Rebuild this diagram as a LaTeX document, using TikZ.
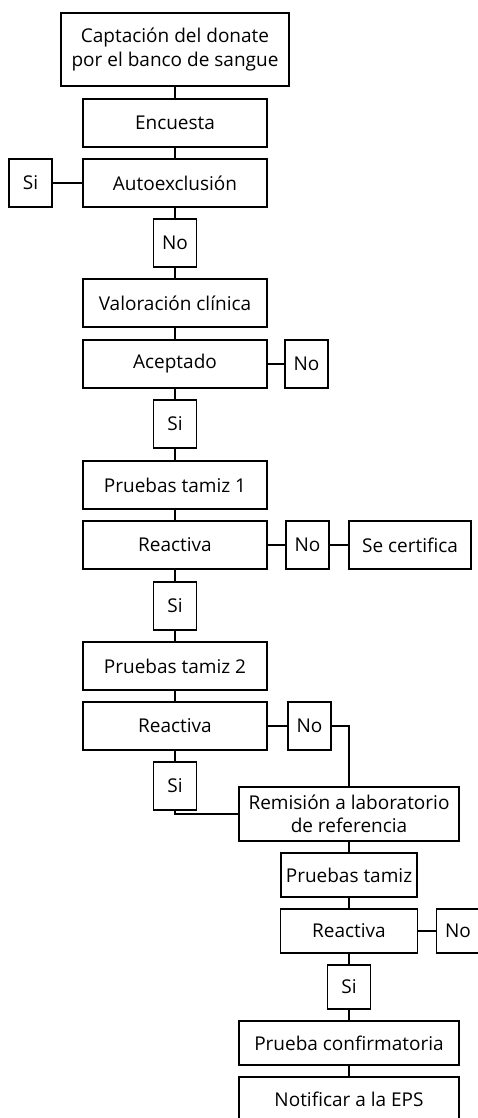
\documentclass[tikz,border=0pt]{standalone}
\usepackage{fontspec}
\setmainfont{Open Sans}
\usetikzlibrary{shapes,arrows,positioning}
\tikzstyle{Block} = [draw, rectangle, line width=1.1pt, minimum height=48pt, minimum width=184pt, inner sep=0pt, outer sep=0pt, align=center, font=\fontsize{19}{24.5}\selectfont]
\tikzstyle{Answer} = [Block, minimum width=43pt]
\tikzstyle{Lower} = [Block, minimum height=44pt]
\tikzstyle{Link} = [line width=2.2pt]

\begin{document}
\begin{tikzpicture}[x=1pt, y=1pt, node distance=12pt]
    \useasboundingbox (0,0) rectangle (477,-1118);
    \node[Block, minimum width=228pt, minimum height=73pt] (captacion) at (175,-49.5) {Captación del donate\\por el banco de sangue};
    \node[Block]  (encuesta)   [below=13pt of captacion]  {Encuesta};
    \node[Block]  (autoexcl)   [below=of encuesta]        {Autoexclusión};
    \node[Answer] (siAuto)     [left=31pt of autoexcl]    {Si};
    \node[Answer] (noAuto)     [below=of autoexcl]        {No};
    \node[Block]  (valoracion) [below=of noAuto]          {Valoración clínica};
    \node[Block]  (aceptado)   [below=13pt of valoracion] {Aceptado};
    \node[Answer] (noAcep)     [right=18pt of aceptado]   {No};
    \node[Answer] (siAcep)     [below=of aceptado]        {Si};
    \node[Block]  (tamizA)     [below=13pt of siAcep]     {Pruebas tamiz 1};
    \node[Block]  (reactA)     [below=of tamizA]          {Reactiva};
    \node[Answer] (noReactA)   [right=19pt of reactA]     {No};
    \node[Block, minimum width=122pt] (certifica) [right=20pt of noReactA] {Se certifica};
    \node[Answer] (siReactA)   [below=13pt of reactA]     {Si};
    \node[Block]  (tamizB)     [below=of siReactA]        {Pruebas tamiz 2};
    \node[Block]  (reactB)     [below=of tamizB]          {Reactiva};
    \node[Answer] (noReactB)   [right=21pt of reactB]     {No};
    \node[Answer] (siReactB)   [below=of reactB]          {Si};
    \node[Block, minimum width=220pt, minimum height=54pt, font=\fontsize{19}{23}\selectfont] (remision) [below right=37pt and -28pt of reactB] {Remisión a laboratorio\\de referencia};
    \node[Lower, minimum width=136pt] (tamizC) [below=of remision] {Pruebas tamiz};
    \node[Lower, minimum width=137pt] (reactC) [below=of tamizC]   {Reactiva};
    \node[Lower, minimum width=43pt]  (noReactC) [right=19pt of reactC] {No};
    \node[Lower, minimum width=43pt]  (siReactC) [below=of reactC] {Si};
    \node[Lower, minimum width=220pt] (confirma) [below=of siReactC] {Prueba confirmatoria};
    \node[Lower, minimum width=220pt] (notifica) [below=of confirma] {Notificar a la EPS};
    \draw[Link] (captacion) -- (encuesta);
    \draw[Link] (encuesta)  -- (autoexcl);
    \draw[Link] (autoexcl)  -- (siAuto);
    \draw[Link] (autoexcl)  -- (noAuto);
    \draw[Link] (noAuto)    -- (valoracion);
    \draw[Link] (valoracion) -- (aceptado);
    \draw[Link] (aceptado)  -- (noAcep);
    \draw[Link] (aceptado)  -- (siAcep);
    \draw[Link] (siAcep)    -- (tamizA);
    \draw[Link] (tamizA)    -- (reactA);
    \draw[Link] (reactA)    -- (noReactA);
    \draw[Link] (noReactA)  -- (certifica);
    \draw[Link] (reactA)    -- (siReactA);
    \draw[Link] (siReactA)  -- (tamizB);
    \draw[Link] (tamizB)    -- (reactB);
    \draw[Link] (reactB)    -- (noReactB);
    \draw[Link] (reactB)    -- (siReactB);
    \draw[Link] (noReactB.east) -| (remision.north);
    \draw[Link] (siReactB.south) |- (remision.west);
    \draw[Link] (remision)  -- (tamizC);
    \draw[Link] (tamizC)    -- (reactC);
    \draw[Link] (reactC)    -- (noReactC);
    \draw[Link] (reactC)    -- (siReactC);
    \draw[Link] (siReactC)  -- (confirma);
    \draw[Link] (confirma)  -- (notifica);
\end{tikzpicture}
\end{document}
